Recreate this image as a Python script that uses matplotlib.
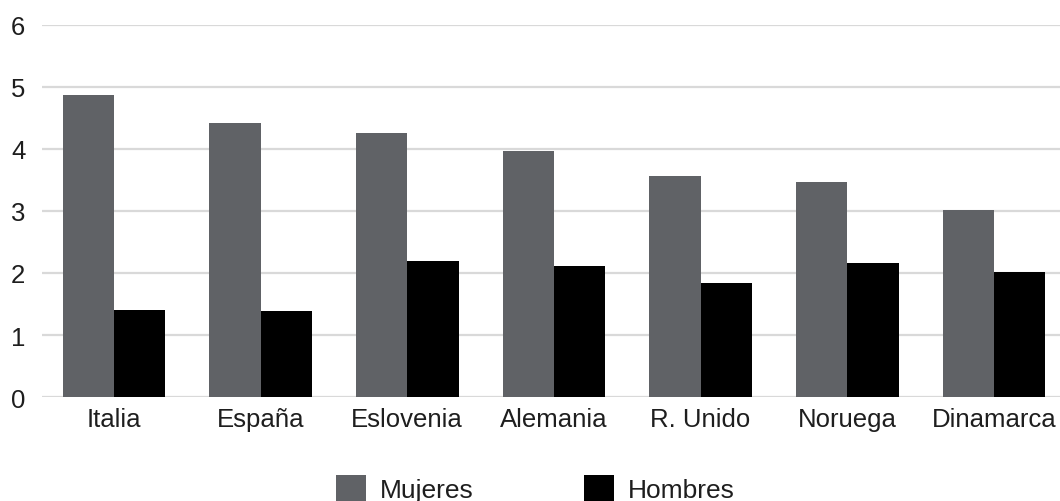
import matplotlib
matplotlib.use("Agg")
import matplotlib.pyplot as plt
import numpy as np

plt.rcParams['font.family'] = ['Liberation Sans', 'DejaVu Sans']

countries = ["Italia", "España", "Eslovenia", "Alemania", "R. Unido", "Noruega", "Dinamarca"]
mujeres = [4.86, 4.42, 4.26, 3.96, 3.57, 3.47, 3.02]
hombres = [1.41, 1.39, 2.20, 2.12, 1.84, 2.16, 2.02]
yticks = [0, 1, 2, 3, 4, 5, 6]

GRAY = "#606266"
GRID = "#d9d9d9"
TEXT = "#1e1e1e"

fig = plt.figure(figsize=(10.6, 5.02), dpi=100)
ax = fig.add_axes([0.0396, 0.207, 0.9604, 0.7418])

x = np.arange(len(countries))
w = 0.35
ax.bar(x - w / 2, mujeres, w, color=GRAY, label="Mujeres", zorder=3)
ax.bar(x + w / 2, hombres, w, color="black", label="Hombres", zorder=3)

ax.set_xlim(-0.49, 6.45)
ax.set_ylim(0, 6)
ax.set_yticks(yticks)
ax.set_xticks(x)
ax.set_xticklabels(countries)
ax.yaxis.grid(True, color=GRID, linewidth=1.6, zorder=0)
ax.set_axisbelow(True)
for s in ax.spines.values():
    s.set_visible(False)
ax.tick_params(axis="both", length=0, labelsize=18.5, colors=TEXT)
ax.tick_params(axis="y", pad=12)
ax.tick_params(axis="x", pad=7)

fig.legend(loc="center", bbox_to_anchor=(0.505, 0.024), ncol=2, frameon=False,
           fontsize=19, handlelength=1.14, handleheight=1.14, columnspacing=4.2,
           handletextpad=0.5, labelcolor=TEXT)

fig.savefig("out.png", dpi=100)
